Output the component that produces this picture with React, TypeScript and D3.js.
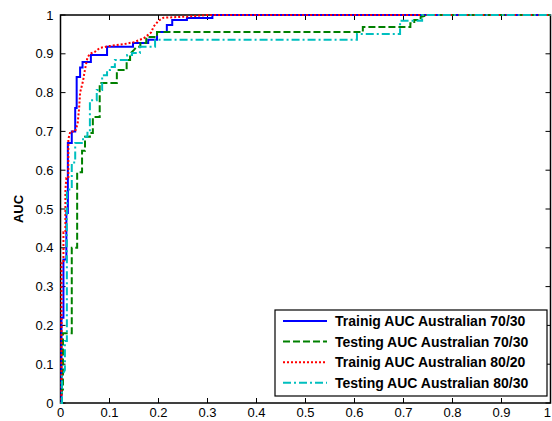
import * as d3 from 'd3';

// [false positive rate, AUC] step points
const trainAU7030: [number, number][] = [
  [0, 0], [0.002, 0], [0.002, 0.22], [0.006, 0.22], [0.006, 0.37], [0.012, 0.37], [0.012, 0.49],
  [0.015, 0.49], [0.015, 0.67], [0.023, 0.67], [0.023, 0.7], [0.03, 0.7], [0.03, 0.76],
  [0.033, 0.76], [0.033, 0.84], [0.04, 0.84], [0.04, 0.865], [0.045, 0.865], [0.045, 0.879],
  [0.062, 0.879], [0.062, 0.897], [0.095, 0.897], [0.095, 0.918], [0.148, 0.918], [0.148, 0.928],
  [0.179, 0.928], [0.179, 0.936], [0.197, 0.936], [0.197, 0.956], [0.217, 0.956], [0.217, 0.974],
  [0.228, 0.974], [0.228, 0.987], [0.258, 0.987], [0.258, 0.992], [0.31, 0.992], [0.31, 1], [1, 1],
];
const testAU7030: [number, number][] = [
  [0, 0], [0.003, 0], [0.003, 0.035], [0.005, 0.035], [0.005, 0.18], [0.023, 0.18], [0.023, 0.4],
  [0.034, 0.4], [0.034, 0.595], [0.044, 0.595], [0.044, 0.65], [0.05, 0.65], [0.05, 0.686],
  [0.06, 0.686], [0.06, 0.696], [0.066, 0.696], [0.066, 0.737], [0.08, 0.737], [0.08, 0.825],
  [0.115, 0.825], [0.115, 0.858], [0.135, 0.858], [0.135, 0.884], [0.142, 0.884], [0.142, 0.9],
  [0.15, 0.91], [0.155, 0.918], [0.163, 0.918], [0.163, 0.928], [0.175, 0.928], [0.175, 0.943],
  [0.197, 0.943], [0.197, 0.956], [0.617, 0.956], [0.617, 0.969], [0.714, 0.969], [0.714, 0.979],
  [0.722, 0.979], [0.722, 0.987], [0.735, 0.987], [0.735, 0.995], [0.75, 1], [1, 1],
];
const trainAU8020: [number, number][] = [
  [0, 0], [0.002, 0], [0.002, 0.36], [0.006, 0.36], [0.006, 0.44], [0.01, 0.44], [0.01, 0.55],
  [0.012, 0.58], [0.016, 0.58], [0.016, 0.68], [0.02, 0.7], [0.03, 0.7], [0.035, 0.72],
  [0.038, 0.76], [0.04, 0.8], [0.046, 0.83], [0.05, 0.86], [0.055, 0.89], [0.06, 0.9],
  [0.07, 0.905], [0.08, 0.915], [0.1, 0.92], [0.13, 0.925], [0.15, 0.93], [0.17, 0.94],
  [0.185, 0.955], [0.19, 0.97], [0.2, 0.985], [0.21, 0.993], [0.26, 0.996], [0.3, 1], [1, 1],
];
const testAU8030: [number, number][] = [
  [0, 0], [0.003, 0], [0.003, 0.07], [0.009, 0.085], [0.009, 0.16], [0.013, 0.16], [0.013, 0.55],
  [0.023, 0.55], [0.023, 0.62], [0.03, 0.62], [0.03, 0.67], [0.046, 0.67], [0.046, 0.686],
  [0.055, 0.686], [0.055, 0.7], [0.06, 0.7], [0.06, 0.78], [0.074, 0.78], [0.074, 0.807],
  [0.085, 0.807], [0.085, 0.845], [0.095, 0.845], [0.095, 0.858], [0.101, 0.858], [0.101, 0.866],
  [0.111, 0.866], [0.111, 0.884], [0.136, 0.884], [0.136, 0.897], [0.146, 0.897], [0.146, 0.902],
  [0.162, 0.902], [0.162, 0.918], [0.193, 0.918], [0.193, 0.936], [0.605, 0.936], [0.605, 0.951],
  [0.693, 0.951], [0.693, 0.985], [0.738, 0.985], [0.738, 1], [1, 1],
];

const seriesNames = [
  'Trainig AUC Australian 70/30',
  'Testing AUC Australian 70/30',
  'Trainig AUC Australian 80/20',
  'Testing AUC Australian 80/30',
];
const tickValues = [0, 0.1, 0.2, 0.3, 0.4, 0.5, 0.6, 0.7, 0.8, 0.9, 1];

const W = 552;
const H = 421;
const plot = { left: 60.5, right: 550.5, top: 15, bottom: 403 };

const styles = [
  { color: '#0000ff', dash: null },
  { color: '#008000', dash: '7,3' },
  { color: '#ff0000', dash: '2,2' },
  { color: '#00bfbf', dash: '8,3,2,3' },
];

export default function App() {
  const x = d3.scaleLinear().domain([0, 1]).range([plot.left, plot.right]);
  const y = d3.scaleLinear().domain([0, 1]).range([plot.bottom, plot.top]);
  const line = d3.line<[number, number]>().x(d => x(d[0])).y(d => y(d[1]));
  const data = [trainAU7030, testAU7030, trainAU8020, testAU8030];
  const fmt = (v: number) => (v === 0 || v === 1 ? String(v) : v.toFixed(1));
  const font = 'Liberation Sans, Arial, sans-serif';
  const tick = 5;

  // legend box
  const lg = { x: 275, y: 310, w: 272, h: 86, rowH: 20.6 };

  return (
    <svg width={W} height={H} style={{ position: 'absolute', left: 0, top: 0, background: '#fff' }} fontFamily={font}>
      <rect x={0} y={0} width={W} height={H} fill="#fff" />
      {/* ticks on all four sides, pointing inward */}
      {tickValues.map(v => (
        <g key={'t' + v} stroke="#000" strokeWidth={1}>
          <line x1={x(v)} x2={x(v)} y1={plot.bottom} y2={plot.bottom - tick} />
          <line x1={x(v)} x2={x(v)} y1={plot.top} y2={plot.top + tick} />
          <line x1={plot.left} x2={plot.left + tick} y1={y(v)} y2={y(v)} />
          <line x1={plot.right} x2={plot.right - tick} y1={y(v)} y2={y(v)} />
        </g>
      ))}
      <rect x={plot.left} y={plot.top} width={plot.right - plot.left} height={plot.bottom - plot.top}
        fill="none" stroke="#000" strokeWidth={1.5} />
      {tickValues.map(v => (
        <text key={'xl' + v} x={v === 1 ? W - 1 : x(v)} y={plot.bottom + 14} fontSize={13}
          textAnchor={v === 1 ? 'end' : 'middle'}>{fmt(v)}</text>
      ))}
      {tickValues.map(v => (
        <text key={'yl' + v} x={plot.left - 7} y={y(v) + 4.5} fontSize={13} textAnchor="end">{fmt(v)}</text>
      ))}
      <text transform={`translate(23,${(plot.top + plot.bottom) / 2}) rotate(-90)`} fontSize={13}
        fontWeight="bold" textAnchor="middle">AUC</text>

      {data.map((d, i) => (
        <path key={'s' + i} d={line(d) ?? ''} fill="none" stroke={styles[i].color} strokeWidth={2}
          strokeDasharray={styles[i].dash ?? undefined} />
      ))}

      <g>
        <rect x={lg.x} y={lg.y} width={lg.w} height={lg.h} fill="#fff" stroke="#000" strokeWidth={1.2} />
        {seriesNames.map((name, i) => {
          const cy = lg.y + 11 + i * lg.rowH;
          return (
            <g key={'lg' + i}>
              <line x1={lg.x + 8} x2={lg.x + 52} y1={cy} y2={cy} stroke={styles[i].color} strokeWidth={2}
                strokeDasharray={styles[i].dash ?? undefined} />
              <text x={lg.x + 60} y={cy + 5} fontSize={14} fontWeight="bold">{name}</text>
            </g>
          );
        })}
      </g>
    </svg>
  );
}
